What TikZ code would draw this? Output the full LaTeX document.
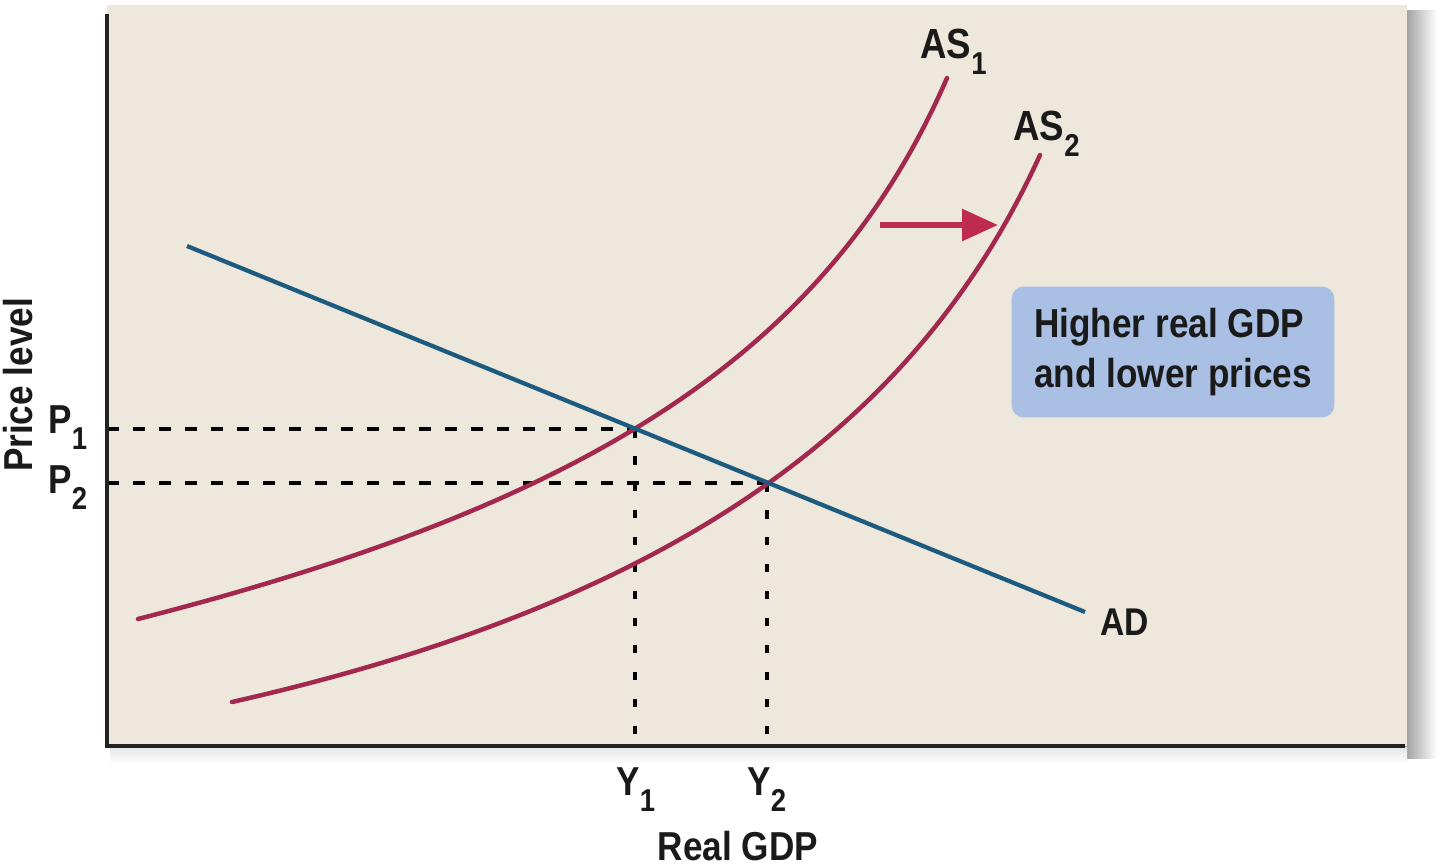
\documentclass[tikz,border=0pt]{standalone}
\usepackage{fontspec}
\setmainfont{Liberation Sans}[FakeStretch=0.87]
\usetikzlibrary{arrows.meta}
\definecolor{panel}{HTML}{EEE7DB}
\definecolor{ascol}{HTML}{A3284F}
\definecolor{arrcol}{HTML}{BF2A50}
\definecolor{adcol}{HTML}{1D5A80}
\definecolor{boxcol}{HTML}{A9BFE4}
\definecolor{ink}{HTML}{1A1A1A}
\definecolor{axiscol}{HTML}{222222}
\newcommand\sublab[3]{\fontsize{#1}{#1}\selectfont #2\raisebox{-0.4em}{\fontsize{18}{18}\selectfont #3}}
\tikzset{
  lbl/.style={text=ink, font=\bfseries, inner sep=0pt},
  ascurve/.style={draw=ascol, line width=0.09cm, line cap=round},
  adline/.style={draw=adcol, line width=0.085cm},
  hguide/.style={draw=black, line width=0.09cm, dash pattern=on 0.24cm off 0.28cm},
  vguide/.style={draw=black, line width=0.09cm, dash pattern=on 0.17cm off 0.37cm},
  axisline/.style={draw=axiscol, line width=0.085cm},
  shiftarrow/.style={draw=arrcol, line width=0.12cm, -{Triangle[length=0.72cm, width=0.62cm]}},
  infobox/.style={fill=boxcol, rounded corners=0.25cm, minimum width=6.46cm, minimum height=2.62cm, text=ink, font=\bfseries\fontsize{23}{28.6}\selectfont, align=left, inner sep=0pt}
}
\begin{document}
\begin{tikzpicture}[x=0.02cm, y=-0.02cm]
\useasboundingbox (0,0) rectangle (1440,866);
% shadow
\shade[left color=black!38, right color=white] (1405,10) rectangle (1437,758);
\shade[top color=black!10, bottom color=white] (110,747) rectangle (1407,764);
% panel
\fill[panel] (107,5) rectangle (1407,746);
% coordinates
\coordinate (origin) at (107,746);
\coordinate (ytop) at (107,14);
\coordinate (xend) at (1405,746);
\coordinate (E1) at (635,429);
\coordinate (E2) at (767,483);
\coordinate (P1ax) at (107,429);
\coordinate (P2ax) at (107,483);
\coordinate (Y1ax) at (635,746);
\coordinate (Y2ax) at (767,746);
\coordinate (ADs) at (187,246);
\coordinate (ADe) at (1085,612);
\coordinate (arrS) at (880,225);
\coordinate (arrE) at (998,225);
\coordinate (AS1s) at (138,619);
\coordinate (AS1e) at (947,78);
\coordinate (AS2s) at (232,702);
\coordinate (AS2e) at (1040,155);
% guides
\draw[hguide] (P1ax) -- (E1);
\draw[hguide] (P2ax) -- (E2);
\draw[vguide] (E1) -- (Y1ax);
\draw[vguide] (E2) -- (Y2ax);
% curves
\draw[ascurve] (AS1s) .. controls (588,504) and (827,354) .. (AS1e);
\draw[ascurve] (AS2s) .. controls (682,600) and (920,419) .. (AS2e);
\draw[adline] (ADs) -- (ADe);
\draw[shiftarrow] (arrS) -- (arrE);
% axes
\draw[axisline] (ytop) -- (origin) -- (xend);
% labels
\node[lbl, anchor=base west] (as1) at (920,58) {\sublab{24}{AS}{1}};
\node[lbl, anchor=base west] (as2) at (1013,140) {\sublab{24}{AS}{2}};
\node[lbl, anchor=base west, font=\bfseries\fontsize{22}{22}\selectfont] (ad) at (1100,635) {AD};
\node[lbl, anchor=base west] (p1) at (48,433) {\sublab{23}{P}{1}};
\node[lbl, anchor=base west] (p2) at (48,493) {\sublab{23}{P}{2}};
\node[lbl, anchor=base west] (y1) at (616,795) {\sublab{23}{Y}{1}};
\node[lbl, anchor=base west] (y2) at (747,795) {\sublab{23}{Y}{2}};
\node[lbl, anchor=base, font=\bfseries\fontsize{23}{23}\selectfont] (xlab) at (738,860) {Real GDP};
\node[lbl, anchor=base, rotate=90, font=\bfseries\fontsize{23}{23}\selectfont] (ylab) at (32,385) {Price level};
\node[infobox] (box) at (1173,352) {Higher real GDP\\and lower prices};
\end{tikzpicture}
\end{document}
